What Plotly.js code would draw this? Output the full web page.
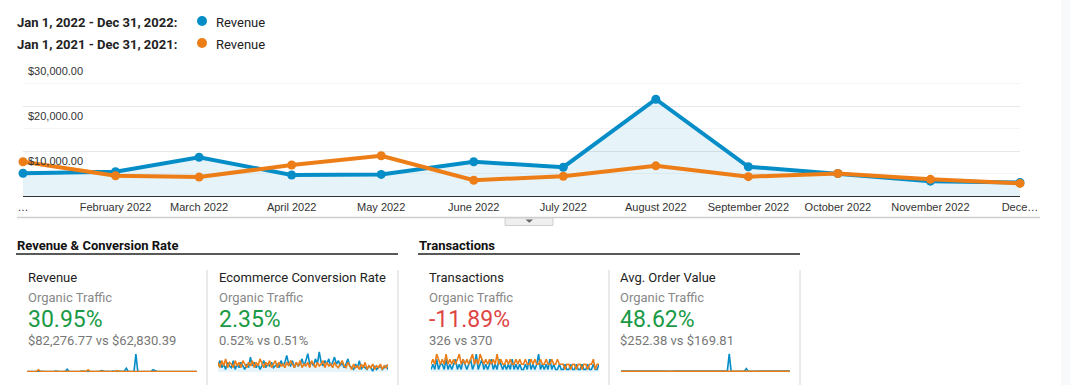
<!DOCTYPE html>
<html>
<head>
<meta charset="utf-8">
<script src="https://cdn.plot.ly/plotly-3.0.1.min.js"></script>
<style>
html,body{margin:0;padding:0;background:#fff;}
#chart{width:1070px;height:385px;}
</style>
</head>
<body>
<div id="chart"></div>
<script>
// ---------- DATA ----------
const months = ['2022-01-01','2022-02-01','2022-03-01','2022-04-01','2022-05-01','2022-06-01',
                '2022-07-01','2022-08-01','2022-09-01','2022-10-01','2022-11-01','2022-12-01'];
const monthLabels = ['…','February 2022','March 2022','April 2022','May 2022','June 2022',
                     'July 2022','August 2022','September 2022','October 2022','November 2022','Dece…'];
const revenue2022 = [5050, 5400, 8600, 4670, 4800, 7600, 6400, 21500, 6500, 5000, 3300, 3000];
const revenue2021 = [7600, 4500, 4200, 6900, 8950, 3500, 4400, 6700, 4300, 5000, 3700, 2800];
const yTickVals = [10000, 20000, 30000];
const yTickText = ['$10,000.00', '$20,000.00', '$30,000.00'];

const legendRanges = ['Jan 1, 2022 - Dec 31, 2022:', 'Jan 1, 2021 - Dec 31, 2021:'];
const legendMetric = ['Revenue', 'Revenue'];

const groupTitles = ['Revenue & Conversion Rate', 'Transactions'];
const cardTitles = ['Revenue', 'Ecommerce Conversion Rate', 'Transactions', 'Avg. Order Value'];
const cardSegment = ['Organic Traffic', 'Organic Traffic', 'Organic Traffic', 'Organic Traffic'];
const cardChange = ['30.95%', '2.35%', '-11.89%', '48.62%'];
const cardPositive = [true, true, false, true];
const cardCompare = ['$82,276.77 vs $62,830.39', '0.52% vs 0.51%', '326 vs 370', '$252.38 vs $169.81'];

// sparkline series (periodic values)
const sparkRevenue2022 = [300,250,400,200,350,300,250,500,300,200,
  350,300,250,400,300,600,250,300,350,400,
  300,1800,400,300,250,350,300,200,400,700,
  300,350,250,300,400,300,250,350,300,900,
  300,250,400,300,350,700,300,250,400,300,
  350,600,2500,400,300,350,300,12000,400,300,
  350,250,400,300,350,500,1600,700,300,250,
  350,300,400,250,300,350,300,250,400,300,
  250,350,300,200,300,250,300,350,200,300];
const sparkRevenue2021 = [300,350,250,400,300,500,1500,400,300,350,
  250,300,400,350,300,250,400,300,350,300,
  600,400,300,250,350,400,300,350,500,300,
  250,400,1400,350,300,400,250,300,350,300,
  400,300,250,350,300,400,300,800,350,300,
  250,300,350,400,300,250,350,300,400,300,
  350,250,300,400,350,300,250,300,350,400,
  300,250,350,300,400,250,300,350,300,250,
  300,350,250,300,400,300,250,350,300,250];
const sparkConv2022 = [0.6,0.9,0.5,0.7,0.4,0.8,0.6,0.5,0.9,0.4,
  0.7,0.5,0.8,0.6,0.4,0.7,0.5,1.1,0.6,0.8,
  0.5,0.7,0.4,0.6,0.9,0.5,0.7,0.6,0.8,0.5,
  0.6,0.7,0.5,0.9,0.6,0.8,1.2,0.7,0.6,0.9,
  0.5,0.8,0.6,0.7,1.0,0.6,0.9,1.3,0.7,0.8,
  0.6,1.0,0.7,1.4,0.8,0.6,0.9,0.7,1.0,0.6,
  0.8,1.1,0.7,0.9,0.6,0.8,0.5,0.7,1.0,0.6,
  0.5,0.4,0.7,0.5,0.9,0.4,0.6,0.5,0.4,0.6,
  0.5,0.3,0.6,0.4,0.5,0.6,0.4,0.5,0.6,0.4];
const sparkConv2021 = [0.8,0.5,0.9,0.6,1.0,0.5,0.8,0.7,0.5,0.9,
  0.6,0.8,0.5,0.9,0.7,0.5,0.8,0.6,0.9,0.5,
  0.8,0.6,1.0,0.7,0.5,0.8,0.6,0.9,0.5,0.7,
  0.9,0.5,0.8,0.6,0.7,0.5,0.8,0.6,0.9,0.7,
  0.5,0.8,0.6,0.9,0.5,0.7,0.6,0.8,0.5,0.9,
  0.7,0.5,0.8,0.6,0.7,0.9,0.5,0.8,0.6,0.7,
  0.5,0.8,0.6,0.5,0.7,0.9,0.6,0.5,0.8,0.6,
  0.4,0.7,0.5,0.6,0.4,0.7,0.5,0.8,0.4,0.6,
  0.5,0.7,0.4,0.6,0.5,0.7,0.4,0.6,0.5,0.7];
const sparkTrans2022 = [1,2,1,3,1,2,2,1,3,1,
  2,1,2,3,1,2,1,3,2,1,
  2,3,1,2,4,1,2,3,1,2,
  1,2,3,1,2,1,3,2,1,2,
  1,2,1,3,1,2,1,2,1,1,
  2,1,3,1,2,1,2,4,1,2,
  1,2,1,3,1,2,1,1,2,1,
  1,2,1,1,2,1,1,2,1,1,
  2,1,1,2,1,1,2,1,1,2];
const sparkTrans2021 = [2,3,2,4,3,2,3,2,4,2,
  3,2,3,2,3,4,2,3,2,3,
  2,3,4,2,3,2,4,3,2,3,
  2,3,2,3,2,4,2,3,2,2,
  3,2,3,2,2,3,2,3,2,2,
  3,2,2,3,2,3,2,2,3,2,
  2,3,2,2,3,2,2,3,2,2,
  2,1,2,2,1,2,2,1,2,2,
  1,2,2,1,2,2,3,1,2,2];
const sparkAov2022 = [200,180,220,190,210,200,230,190,200,210,
  190,220,200,180,210,200,190,220,200,210,
  190,200,230,200,190,210,200,180,220,200,
  210,190,200,220,190,200,210,230,200,190,
  210,200,190,220,200,210,190,200,220,200,
  190,210,200,220,190,200,210,4300,200,190,
  210,200,190,220,200,210,800,200,190,210,
  200,220,190,200,210,190,200,220,200,190,
  210,200,190,200,220,190,210,200,190,200];
const sparkAov2021 = [170,160,180,170,165,175,170,160,180,170,
  165,175,170,180,160,170,175,165,170,180,
  170,160,175,170,180,165,170,175,160,170,
  180,170,165,175,170,160,180,170,165,175,
  170,180,160,170,175,165,170,180,170,160,
  175,170,165,180,170,175,160,170,180,165,
  170,175,160,170,180,170,165,175,170,160,
  180,170,165,175,170,160,180,170,165,175,
  170,160,180,170,165,175,170,160,180,170];

// ---------- STYLE / LAYOUT ----------
const W = 1070, H = 385;
const px = x => x / W;
const py = y => 1 - y / H;
const BLUE = '#058dc7', ORANGE = '#ed7e17';
const FILL = 'rgba(5,141,199,0.1)';
const UI_FONT = 'Roboto, "Liberation Sans", Arial, sans-serif';
const AX_FONT = 'Arial, "Liberation Sans", sans-serif';

const traces = [
  {x: months, y: revenue2022, type: 'scatter', mode: 'lines+markers', fill: 'tozeroy',
   fillcolor: FILL, line: {color: BLUE, width: 4}, marker: {color: BLUE, size: 9},
   cliponaxis: false, xaxis: 'x', yaxis: 'y', hoverinfo: 'skip'},
  {x: months, y: revenue2021, type: 'scatter', mode: 'lines+markers',
   line: {color: ORANGE, width: 4}, marker: {color: ORANGE, size: 9},
   cliponaxis: false, xaxis: 'x', yaxis: 'y', hoverinfo: 'skip'}
];

// [2022 series, 2021 series, axis min, axis max]
const sparkPairs = [
  [sparkRevenue2022, sparkRevenue2021, 0, 14000],
  [sparkConv2022, sparkConv2021, 0.25, 1.45],
  [sparkTrans2022, sparkTrans2021, 0.5, 4.6],
  [sparkAov2022, sparkAov2021, 0, 5000]
];
const sparkDomains = [[27,197],[218,388],[431,599],[621,790]];

const layout = {
  width: W, height: H,
  margin: {l: 0, r: 0, t: 0, b: 0},
  paper_bgcolor: '#fff', plot_bgcolor: 'rgba(0,0,0,0)',
  showlegend: false, hovermode: false,
  xaxis: {
    type: 'date', domain: [px(23), px(1020)], range: [months[0], months[months.length-1]],
    tickmode: 'array', tickvals: months, ticktext: monthLabels,
    showgrid: false, zeroline: false, showline: true, linecolor: '#333', linewidth: 1.3,
    ticks: '', tickfont: {family: AX_FONT, size: 11, color: '#333'}, fixedrange: true
  },
  yaxis: {
    domain: [py(196), py(61)], range: [0, 30000], tick0: 0, dtick: 10000,
    showticklabels: false, showgrid: true, gridcolor: '#e8e8e8', gridwidth: 1,
    zeroline: false, ticks: '',
    minor: {dtick: 5000, tick0: 0, showgrid: true, gridcolor: '#f4f4f4', gridwidth: 1},
    fixedrange: true
  },
  annotations: [],
  shapes: []
};

sparkPairs.forEach((p, i) => {
  const n = i + 2;
  const xa = 'x' + n, ya = 'y' + n;
  traces.push({y: p[0], type: 'scatter', mode: 'lines', fill: 'tozeroy', fillcolor: FILL,
    line: {color: BLUE, width: 1.6}, xaxis: xa, yaxis: ya, hoverinfo: 'skip'});
  traces.push({y: p[1], type: 'scatter', mode: 'lines',
    line: {color: ORANGE, width: 1.6}, xaxis: xa, yaxis: ya, hoverinfo: 'skip'});
  layout['xaxis' + n] = {domain: [px(sparkDomains[i][0]), px(sparkDomains[i][1])],
    range: [0, p[0].length - 1], visible: false, fixedrange: true, anchor: ya};
  layout['yaxis' + n] = {domain: [py(372), py(351)], range: [p[2], p[3]],
    visible: false, fixedrange: true, anchor: xa};
});

// y tick labels (inside, under gridline)
yTickVals.forEach((v, i) => {
  layout.annotations.push({text: yTickText[i], xref: 'paper', yref: 'y', x: px(26), y: v,
    xanchor: 'left', yanchor: 'top', yshift: -2, showarrow: false,
    font: {family: AX_FONT, size: 11, color: '#333'}});
});

// legend
const legendY = [22, 44];
[BLUE, ORANGE].forEach((c, i) => {
  layout.annotations.push({text: '<b>' + legendRanges[i] + '</b>', xref: 'paper', yref: 'paper',
    x: px(15), y: py(legendY[i]), xanchor: 'left', yanchor: 'middle', showarrow: false,
    font: {family: UI_FONT, size: 13, color: '#222'}});
  layout.annotations.push({text: legendMetric[i], xref: 'paper', yref: 'paper',
    x: px(214), y: py(legendY[i]), xanchor: 'left', yanchor: 'middle', showarrow: false,
    font: {family: UI_FONT, size: 13, color: '#222'}});
  layout.shapes.push({type: 'circle', xref: 'paper', yref: 'paper',
    x0: px(197), x1: px(207), y0: py(legendY[i] - 6), y1: py(legendY[i] + 4),
    fillcolor: c, line: {width: 0}});
});

// separator under the main chart + tab
layout.shapes.push({type: 'line', xref: 'paper', yref: 'paper', x0: px(17), x1: px(1040),
  y0: py(217.5), y1: py(217.5), line: {color: '#cfcfcf', width: 1.5}});
layout.shapes.push({type: 'rect', xref: 'paper', yref: 'paper', x0: px(505), x1: px(553),
  y0: py(218), y1: py(225.5), fillcolor: '#efefef', line: {color: '#cfcfcf', width: 1}});
layout.shapes.push({type: 'path', xref: 'paper', yref: 'paper',
  path: `M ${px(525.5)} ${py(219.5)} L ${px(533)} ${py(219.5)} L ${px(529.25)} ${py(222.8)} Z`,
  fillcolor: '#666', line: {width: 0}});

// right gray strip
layout.shapes.push({type: 'rect', xref: 'paper', yref: 'paper', x0: px(1061), x1: 1,
  y0: 0, y1: 1, fillcolor: '#f8f9fa', line: {width: 0}, layer: 'below'});

// group headings
const groupX = [[16, 398], [418, 800]];
groupTitles.forEach((t, i) => {
  layout.annotations.push({text: '<b>' + t + '</b>', xref: 'paper', yref: 'paper',
    x: px(groupX[i][0] - 1), y: py(245), xanchor: 'left', yanchor: 'middle', showarrow: false,
    font: {family: UI_FONT, size: 13, color: '#111'}});
  layout.shapes.push({type: 'line', xref: 'paper', yref: 'paper', x0: px(groupX[i][0]),
    x1: px(groupX[i][1]), y0: py(254), y1: py(254), line: {color: '#222', width: 1.3}});
});

// cards
const cardX = [26, 217, 427, 618];
const sepX = [207, 398, 609, 800];
cardTitles.forEach((t, i) => {
  const x = px(cardX[i]);
  const base = {xref: 'paper', yref: 'paper', x: x, xanchor: 'left', yanchor: 'middle', showarrow: false};
  layout.annotations.push(Object.assign({}, base, {text: t, y: py(277),
    font: {family: UI_FONT, size: 13, color: '#222'}}));
  layout.annotations.push(Object.assign({}, base, {text: cardSegment[i], y: py(297.5),
    font: {family: UI_FONT, size: 13, color: '#888'}}));
  layout.annotations.push(Object.assign({}, base, {text: cardChange[i], y: py(319),
    font: {family: UI_FONT, size: 23, color: cardPositive[i] ? '#1a9a45' : '#e04545'}}));
  layout.annotations.push(Object.assign({}, base, {text: cardCompare[i], y: py(340.5),
    font: {family: UI_FONT, size: 13, color: '#777'}}));
  layout.shapes.push({type: 'line', xref: 'paper', yref: 'paper', x0: px(sepX[i]), x1: px(sepX[i]),
    y0: py(270), y1: 0, line: {color: '#d6d6d6', width: 1}});
});

Plotly.newPlot('chart', traces, layout, {staticPlot: true, displayModeBar: false});
</script>
</body>
</html>
